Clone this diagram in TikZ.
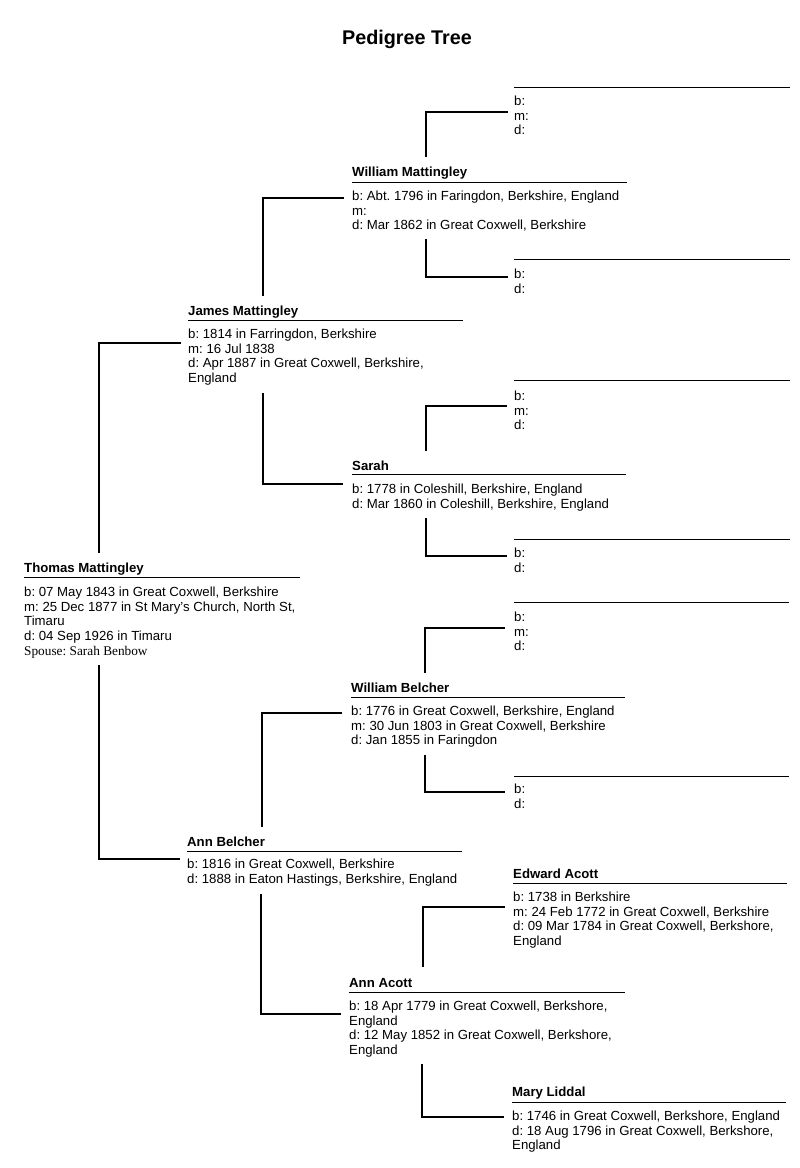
\documentclass[tikz,border=0pt]{standalone}
\usepackage{fontspec}
\setmainfont{Liberation Sans}
\newfontfamily\serifx{Liberation Serif}
\frenchspacing
\tikzset{
  nm/.style={anchor=base west, inner sep=0pt, font=\fontsize{13.2}{14.7}\selectfont\bfseries\frenchspacing},
  tx/.style={anchor=base west, inner sep=0pt, font=\fontsize{13.2}{14.7}\selectfont\frenchspacing},
  sp/.style={anchor=base west, inner sep=0pt, font=\fontsize{13.3}{14.7}\selectfont\serifx\frenchspacing},
  uline/.style={line width=1pt, black},
  conn/.style={line width=1.4pt, black},
}
\begin{document}
\begin{tikzpicture}[x=1pt,y=-1pt]
\useasboundingbox (0,0) rectangle (800,1168);
% title
\node[anchor=base, inner sep=0pt, font=\fontsize{19.8}{22}\selectfont\bfseries] (title) at (407,44) {Pedigree Tree};

% ---- Slot 1 (empty) ----
\coordinate (s1) at (514,87);
\draw[uline] (s1) -- ++(276,0);
\node[tx] (s1b) at (514,105.5) {b:};
\node[tx] (s1m) at (514,120.2) {m:};
\node[tx] (s1d) at (514,134.9) {d:};

% ---- William Mattingley ----
\node[nm] (wm) at (352,176.5) {William Mattingley};
\draw[uline] (352,182) -- ++(275,0);
\node[tx] (wm1) at (352,200.5) {b: Abt. 1796 in Faringdon, Berkshire, England};
\node[tx] (wm2) at (352,215.2) {m:};
\node[tx] (wm3) at (352,229.9) {d: Mar 1862 in Great Coxwell, Berkshire};

% ---- Slot 2 (empty) ----
\coordinate (s2) at (514,259.5);
\draw[uline] (s2) -- ++(276,0);
\node[tx] (s2b) at (514,278.5) {b:};
\node[tx] (s2d) at (514,293.2) {d:};

% ---- James Mattingley ----
\node[nm] (jm) at (188,315.5) {James Mattingley};
\draw[uline] (188,320) -- ++(275,0);
\node[tx] (jm1) at (188,338.5) {b: 1814 in Farringdon, Berkshire};
\node[tx] (jm2) at (188,353.2) {m: 16 Jul 1838};
\node[tx] (jm3) at (188,367.9) {d: Apr 1887 in Great Coxwell, Berkshire,};
\node[tx] (jm4) at (188,382.6) {England};

% ---- Slot 3 (empty) ----
\coordinate (s3) at (514,380);
\draw[uline] (s3) -- ++(276,0);
\node[tx] (s3b) at (514,400.5) {b:};
\node[tx] (s3m) at (514,415.2) {m:};
\node[tx] (s3d) at (514,429.9) {d:};

% ---- Sarah ----
\node[nm] (sa) at (352,470.5) {Sarah};
\draw[uline] (352,474.5) -- ++(274,0);
\node[tx] (sa1) at (352,493.5) {b: 1778 in Coleshill, Berkshire, England};
\node[tx] (sa2) at (352,508.2) {d: Mar 1860 in Coleshill, Berkshire, England};

% ---- Slot 4 (empty) ----
\coordinate (s4) at (514,539);
\draw[uline] (s4) -- ++(276,0);
\node[tx] (s4b) at (514,557.5) {b:};
\node[tx] (s4d) at (514,572.2) {d:};

% ---- Thomas Mattingley ----
\node[nm] (tm) at (24,572.5) {Thomas Mattingley};
\draw[uline] (24,577) -- ++(276,0);
\node[tx] (tm1) at (24,596.5) {b: 07 May 1843 in Great Coxwell, Berkshire};
\node[tx] (tm2) at (24,611.2) {m: 25 Dec 1877 in St Mary's Church, North St,};
\node[tx] (tm3) at (24,625.9) {Timaru};
\node[tx] (tm4) at (24,640.6) {d: 04 Sep 1926 in Timaru};
\node[sp] (tm5) at (24,655.3) {Spouse: Sarah Benbow};

% ---- Slot 5 (empty) ----
\coordinate (s5) at (514,602.5);
\draw[uline] (s5) -- ++(275,0);
\node[tx] (s5b) at (514,621.5) {b:};
\node[tx] (s5m) at (514,636.2) {m:};
\node[tx] (s5d) at (514,650.9) {d:};

% ---- William Belcher ----
\node[nm] (wb) at (351,692.5) {William Belcher};
\draw[uline] (351,697) -- ++(274,0);
\node[tx] (wb1) at (351,715.5) {b: 1776 in Great Coxwell, Berkshire, England};
\node[tx] (wb2) at (351,730.2) {m: 30 Jun 1803 in Great Coxwell, Berkshire};
\node[tx] (wb3) at (351,744.9) {d: Jan 1855 in Faringdon};

% ---- Slot 6 (empty) ----
\coordinate (s6) at (514,776);
\draw[uline] (s6) -- ++(275,0);
\node[tx] (s6b) at (514,793.5) {b:};
\node[tx] (s6d) at (514,808.2) {d:};

% ---- Ann Belcher ----
\node[nm] (ab) at (187,846.5) {Ann Belcher};
\draw[uline] (187,851) -- ++(275,0);
\node[tx] (ab1) at (187,868.5) {b: 1816 in Great Coxwell, Berkshire};
\node[tx] (ab2) at (187,883.7) {d: 1888 in Eaton Hastings, Berkshire, England};

% ---- Edward Acott ----
\node[nm] (ea) at (513,878.5) {Edward Acott};
\draw[uline] (513,883) -- ++(274,0);
\node[tx] (ea1) at (513,901.5) {b: 1738 in Berkshire};
\node[tx] (ea2) at (513,916.2) {m: 24 Feb 1772 in Great Coxwell, Berkshire};
\node[tx] (ea3) at (513,930.9) {d: 09 Mar 1784 in Great Coxwell, Berkshore,};
\node[tx] (ea4) at (513,945.6) {England};

% ---- Ann Acott ----
\node[nm] (aa) at (349,987.5) {Ann Acott};
\draw[uline] (349,992) -- ++(276,0);
\node[tx] (aa1) at (349,1010.5) {b: 18 Apr 1779 in Great Coxwell, Berkshore,};
\node[tx] (aa2) at (349,1025.2) {England};
\node[tx] (aa3) at (349,1039.9) {d: 12 May 1852 in Great Coxwell, Berkshore,};
\node[tx] (aa4) at (349,1054.6) {England};

% ---- Mary Liddal ----
\node[nm] (ml) at (512,1096.5) {Mary Liddal};
\draw[uline] (512,1102) -- ++(274,0);
\node[tx] (ml1) at (512,1120.5) {b: 1746 in Great Coxwell, Berkshore, England};
\node[tx] (ml2) at (512,1135.2) {d: 18 Aug 1796 in Great Coxwell, Berkshore,};
\node[tx] (ml3) at (512,1149.9) {England};

% ---- connector end points ----
\coordinate (c1a) at (508,112);   \coordinate (c1b) at (426,157);
\coordinate (c2a) at (344,198);   \coordinate (c2b) at (263,296);
\coordinate (c3a) at (426,239);   \coordinate (c3b) at (508,277);
\coordinate (c4a) at (181,343);   \coordinate (c4b) at (99,553);
\coordinate (c5a) at (263,393);   \coordinate (c5b) at (343,484);
\coordinate (c6a) at (507,406);   \coordinate (c6b) at (426,451);
\coordinate (c7a) at (426,518);   \coordinate (c7b) at (507,556);
\coordinate (c8a) at (99,665);    \coordinate (c8b) at (180,859);
\coordinate (c9a) at (505,628);   \coordinate (c9b) at (425,673);
\coordinate (c10a) at (342,713);  \coordinate (c10b) at (262,827);
\coordinate (c11a) at (425,755);  \coordinate (c11b) at (505,792);
\coordinate (c12a) at (261,894);  \coordinate (c12b) at (341,1014);
\coordinate (c13a) at (505,907);  \coordinate (c13b) at (423,967);
\coordinate (c14a) at (422,1064); \coordinate (c14b) at (504,1117);

% ---- connectors ----
\draw[conn] (c1a) -| (c1b);
\draw[conn] (c2a) -| (c2b);
\draw[conn] (c3a) |- (c3b);
\draw[conn] (c4a) -| (c4b);
\draw[conn] (c5a) |- (c5b);
\draw[conn] (c6a) -| (c6b);
\draw[conn] (c7a) |- (c7b);
\draw[conn] (c8a) |- (c8b);
\draw[conn] (c9a) -| (c9b);
\draw[conn] (c10a) -| (c10b);
\draw[conn] (c11a) |- (c11b);
\draw[conn] (c12a) |- (c12b);
\draw[conn] (c13a) -| (c13b);
\draw[conn] (c14a) |- (c14b);
\end{tikzpicture}
\end{document}
